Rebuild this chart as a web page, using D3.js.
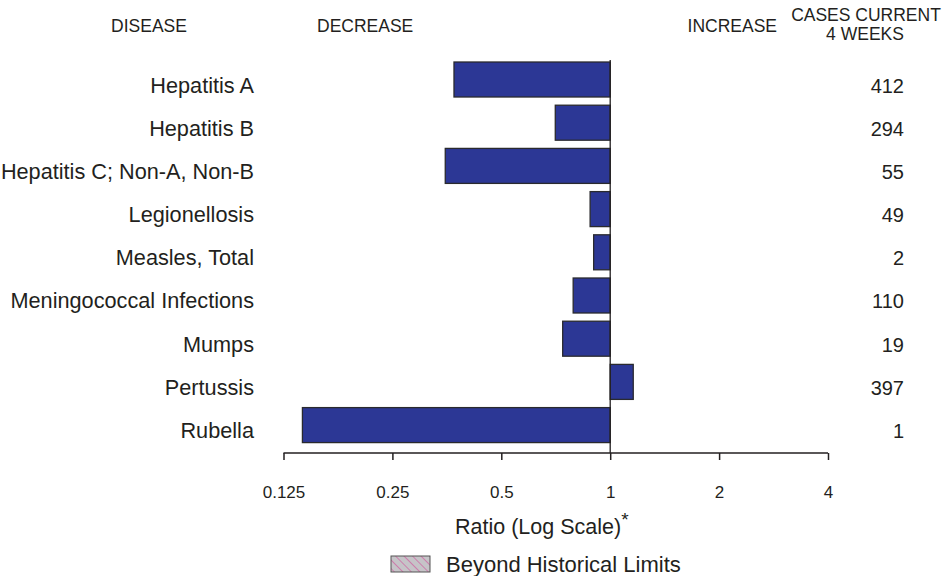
<!DOCTYPE html>
<html>
<head>
<meta charset="utf-8">
<script src="https://cdn.jsdelivr.net/npm/d3@7"></script>
<style>
  body { margin: 0; background: #fff; }
  svg text { font-family: "Liberation Sans", Arial, sans-serif; fill: #231f20; }
</style>
</head>
<body>
<div id="chart"></div>
<script>
const diseases = ["Hepatitis A", "Hepatitis B", "Hepatitis C; Non-A, Non-B", "Legionellosis",
    "Measles, Total", "Meningococcal Infections", "Mumps", "Pertussis", "Rubella"];
const ratios = [0.370, 0.705, 0.350, 0.880, 0.900, 0.790, 0.739, 1.158, 0.141];
const cases = [412, 294, 55, 49, 2, 110, 19, 397, 1];
const tickValues = [0.125, 0.25, 0.5, 1, 2, 4];
const tickLabels = ["0.125", "0.25", "0.5", "1", "2", "4"];

const width = 950, height = 576;
const data = diseases.map((d, i) => ({ name: d, ratio: ratios[i], cases: cases[i] }));

const svg = d3.select("#chart").append("svg")
    .attr("width", width)
    .attr("height", height);

const x = d3.scaleLog().domain([0.125, 4]).range([283.5, 828]);
const y = d3.scaleBand().domain(diseases).range([53.8, 450.8]).padding(0.19);

// hatch pattern for legend
const defs = svg.append("defs");
const pat = defs.append("pattern")
    .attr("id", "hatch")
    .attr("patternUnits", "userSpaceOnUse")
    .attr("width", 6).attr("height", 6)
    .attr("patternTransform", "rotate(-45)");
pat.append("rect").attr("width", 6).attr("height", 6).attr("fill", "#c6c4c8");
pat.append("line").attr("x1", 0).attr("y1", 0).attr("x2", 0).attr("y2", 6)
    .attr("stroke", "#d0509a").attr("stroke-width", 1.2);

// headers
const hdr = "17.5px";
svg.append("text").attr("x", 149).attr("y", 32).attr("text-anchor", "middle")
    .style("font-size", hdr).text("DISEASE");
svg.append("text").attr("x", 317).attr("y", 32)
    .style("font-size", hdr).text("DECREASE");
svg.append("text").attr("x", 777).attr("y", 32).attr("text-anchor", "end")
    .style("font-size", hdr).text("INCREASE");
svg.append("text").attr("x", 866).attr("y", 21).attr("text-anchor", "middle")
    .style("font-size", hdr).text("CASES CURRENT");
svg.append("text").attr("x", 865).attr("y", 40).attr("text-anchor", "middle")
    .style("font-size", hdr).text("4 WEEKS");

// bars
svg.append("g").selectAll("rect")
    .data(data)
    .join("rect")
    .attr("x", d => Math.min(x(d.ratio), x(1)))
    .attr("y", d => y(d.name))
    .attr("width", d => Math.abs(x(d.ratio) - x(1)))
    .attr("height", y.bandwidth())
    .attr("fill", "#2c3795")
    .attr("stroke", "#2a2a2e")
    .attr("stroke-width", 1.3);

// reference line at 1
svg.append("line")
    .attr("x1", x(1)).attr("x2", x(1))
    .attr("y1", 60).attr("y2", 453)
    .attr("stroke", "#231f20").attr("stroke-width", 1.3);

// disease labels
svg.append("g").selectAll("text")
    .data(data)
    .join("text")
    .attr("x", 254)
    .attr("y", d => y(d.name) + y.bandwidth() / 2 + 13)
    .attr("text-anchor", "end")
    .style("font-size", "21.7px")
    .text(d => d.name);

// case counts
svg.append("g").selectAll("text")
    .data(data)
    .join("text")
    .attr("x", 904)
    .attr("y", d => y(d.name) + y.bandwidth() / 2 + 13)
    .attr("text-anchor", "end")
    .style("font-size", "20px")
    .text(d => d.cases);

// x axis
const xAxis = d3.axisBottom(x)
    .tickValues(tickValues)
    .tickFormat((d, i) => tickLabels[i])
    .tickSizeOuter(0)
    .tickSizeInner(7)
    .tickPadding(26);

const axisG = svg.append("g")
    .attr("transform", "translate(0,453)")
    .call(xAxis);
axisG.select(".domain").attr("stroke", "#231f20").attr("stroke-width", 1.3)
    .attr("d", `M${x(0.125)},0H${x(4)}`);
axisG.selectAll(".tick line").attr("stroke", "#231f20").attr("stroke-width", 1.5);
axisG.selectAll(".tick text")
    .style("font-size", "17px")
    .style("font-family", "Liberation Sans, Arial, sans-serif")
    .attr("fill", "#231f20");

// axis title
const title = svg.append("text")
    .attr("x", 455).attr("y", 534)
    .style("font-size", "21.5px");
title.append("tspan").text("Ratio (Log Scale)");
title.append("tspan").attr("dy", -8).style("font-size", "19px").text("*");

// legend
svg.append("rect")
    .attr("x", 391).attr("y", 556)
    .attr("width", 39).attr("height", 16)
    .attr("fill", "url(#hatch)")
    .attr("stroke", "#555").attr("stroke-width", 1);
svg.append("text")
    .attr("x", 446).attr("y", 572)
    .style("font-size", "22px")
    .text("Beyond Historical Limits");
</script>
</body>
</html>
